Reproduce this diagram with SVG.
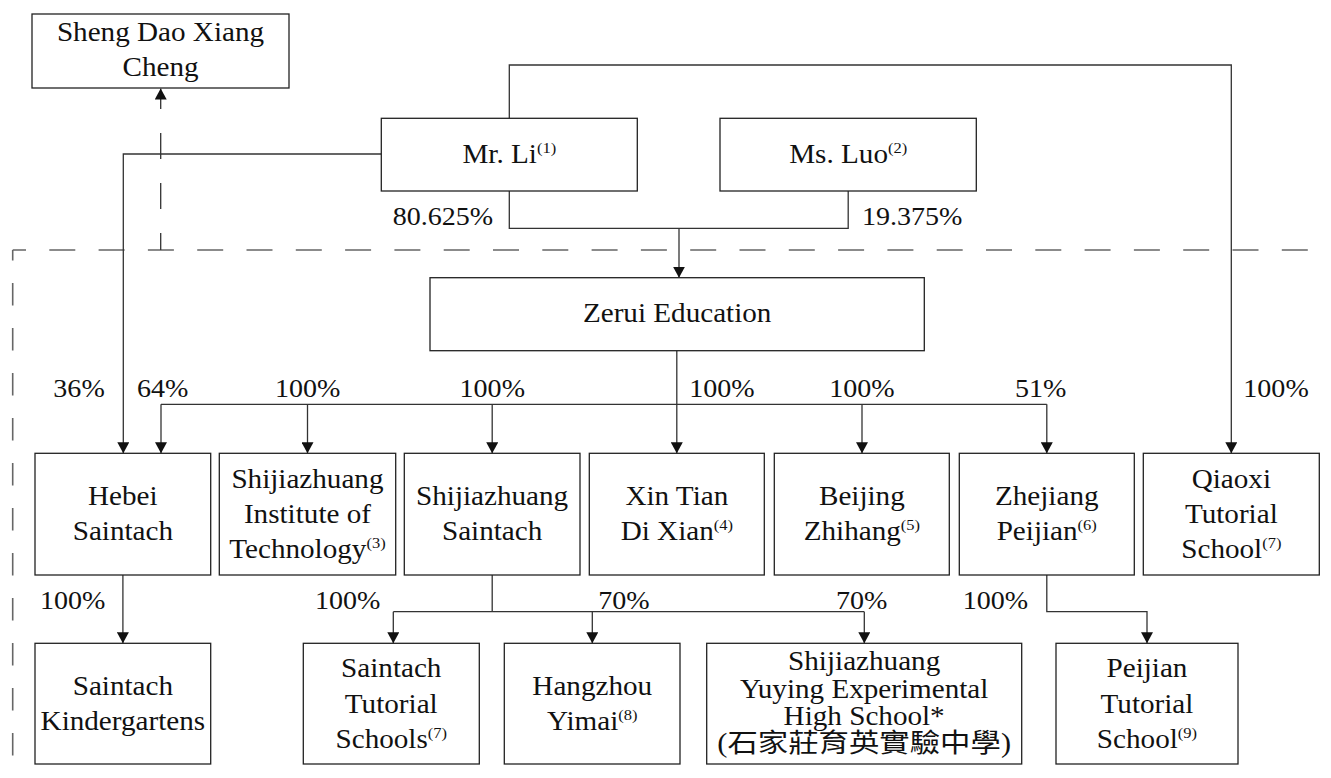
<svg xmlns="http://www.w3.org/2000/svg" width="1331" height="778" viewBox="0 0 1331 778">
<style>
rect.box{fill:#fff;stroke:#222;stroke-width:1.3}
.t{font-family:"Liberation Serif","Times New Roman",serif;font-size:26.5px;fill:#111;text-anchor:middle}
.p{font-family:"Liberation Serif","Times New Roman",serif;font-size:25.5px;fill:#111}
.sup{font-size:15px}
.cjk{font-family:"Liberation Serif","Noto Sans CJK TC",serif}
.c{fill:none;stroke:#333;stroke-width:1.3}
.a{marker-end:url(#arr)}
.d{fill:none;stroke:#666;stroke-width:1.6}
</style>
<defs>
<marker id="arr" viewBox="0 0 11 12" refX="11" refY="6" markerWidth="11" markerHeight="12" markerUnits="userSpaceOnUse" orient="auto">
<path d="M0,0 L11,6 L0,12 z" fill="#111"/>
</marker>
</defs>

<g id="boundary">
<path class="d" d="M12.7,250 V778" stroke-dasharray="22.5 22.5" stroke-dashoffset="12"/>
<path class="d" d="M12.7,250 H1331" stroke-dasharray="26 23.3" stroke-dashoffset="12.7"/>
</g>

<g id="connectors">
<path class="c a" d="M160.7,250 V88.5" stroke-dasharray="26 24" stroke-dashoffset="9"/>
<path class="c a" d="M509.3,118.3 V65 H1231.3 V453.3"/>
<path class="c a" d="M381.3,154 H123.3 V453.3"/>
<path class="c" d="M509.3,191 V228.3 H848.2 V191"/>
<path class="c a" d="M679,228.3 V277.7"/>
<path class="c a" d="M676.8,350.7 V453.3"/>
<path class="c" d="M161,404.3 H1046.8"/>
<path class="c a" d="M161,404.3 V453.3"/>
<path class="c a" d="M307.5,404.3 V453.3"/>
<path class="c a" d="M492.2,404.3 V453.3"/>
<path class="c a" d="M862,404.3 V453.3"/>
<path class="c a" d="M1046.8,404.3 V453.3"/>
<path class="c a" d="M122.9,575 V643.3"/>
<path class="c" d="M492.2,575 V611.7 M393.3,611.7 H864.3"/>
<path class="c a" d="M393.3,611.7 V643.3"/>
<path class="c a" d="M592.3,611.7 V643.3"/>
<path class="c a" d="M864.3,611.7 V643.3"/>
<path class="c a" d="M1046.8,575 V611.7 H1147 V643.3"/>
</g>

<g id="labels">
<text class="p" transform="scale(1.1 1)" x="357" y="225">80.625%</text>
<text class="p" transform="scale(1.1 1)" x="783.6" y="225">19.375%</text>
<text class="p" transform="scale(1.1 1)" x="48.5" y="396.7">36%</text>
<text class="p" transform="scale(1.1 1)" x="124.5" y="396.7">64%</text>
<text class="p" transform="scale(1.1 1)" x="250" y="396.7">100%</text>
<text class="p" transform="scale(1.1 1)" x="417.8" y="396.7">100%</text>
<text class="p" transform="scale(1.1 1)" x="626.6" y="396.7">100%</text>
<text class="p" transform="scale(1.1 1)" x="753.9" y="396.7">100%</text>
<text class="p" transform="scale(1.1 1)" x="922.7" y="396.7">51%</text>
<text class="p" transform="scale(1.1 1)" x="1130.3" y="396.7">100%</text>
<text class="p" transform="scale(1.1 1)" x="36.4" y="609">100%</text>
<text class="p" transform="scale(1.1 1)" x="286.4" y="609">100%</text>
<text class="p" transform="scale(1.1 1)" x="543.9" y="609">70%</text>
<text class="p" transform="scale(1.1 1)" x="760" y="609">70%</text>
<text class="p" transform="scale(1.1 1)" x="875.2" y="609">100%</text>
</g>

<g id="sheng-dao">
<rect class="box" x="32" y="14" width="257" height="74"/>
<text class="t" transform="scale(1.1 1)" x="145.9" y="41">Sheng Dao Xiang</text>
<text class="t" transform="scale(1.1 1)" x="145.9" y="76">Cheng</text>
</g>
<g id="mr-li">
<rect class="box" x="381.3" y="118.3" width="256" height="72.7"/>
<text class="t" transform="scale(1.1 1)" x="463" y="163">Mr. Li<tspan class="sup" dy="-10">(1)</tspan></text>
</g>
<g id="ms-luo">
<rect class="box" x="720" y="118.3" width="256.3" height="72.7"/>
<text class="t" transform="scale(1.1 1)" x="771.1" y="163">Ms. Luo<tspan class="sup" dy="-10">(2)</tspan></text>
</g>
<g id="zerui">
<rect class="box" x="430" y="277.7" width="494.3" height="73"/>
<text class="t" transform="scale(1.1 1)" x="615.6" y="322">Zerui Education</text>
</g>

<g id="hebei-saintach">
<rect class="box" x="35" y="453.3" width="175.7" height="121.7"/>
<text class="t" transform="scale(1.1 1)" x="111.7" y="505">Hebei</text>
<text class="t" transform="scale(1.1 1)" x="111.7" y="540">Saintach</text>
</g>
<g id="sjz-institute">
<rect class="box" x="219.3" y="453.3" width="176.4" height="121.7"/>
<text class="t" transform="scale(1.1 1)" x="279.5" y="488">Shijiazhuang</text>
<text class="t" transform="scale(1.1 1)" x="279.5" y="523">Institute of</text>
<text class="t" transform="scale(1.1 1)" x="279.5" y="558">Technology<tspan class="sup" dy="-10">(3)</tspan></text>
</g>
<g id="sjz-saintach">
<rect class="box" x="404.3" y="453.3" width="175.7" height="121.7"/>
<text class="t" transform="scale(1.1 1)" x="447.4" y="505">Shijiazhuang</text>
<text class="t" transform="scale(1.1 1)" x="447.4" y="540">Saintach</text>
</g>
<g id="xin-tian">
<rect class="box" x="589.3" y="453.3" width="175" height="121.7"/>
<text class="t" transform="scale(1.1 1)" x="615.3" y="505">Xin Tian</text>
<text class="t" transform="scale(1.1 1)" x="615.3" y="540">Di Xian<tspan class="sup" dy="-10">(4)</tspan></text>
</g>
<g id="beijing-zhihang">
<rect class="box" x="774.3" y="453.3" width="175" height="121.7"/>
<text class="t" transform="scale(1.1 1)" x="783.5" y="505">Beijing</text>
<text class="t" transform="scale(1.1 1)" x="783.5" y="540">Zhihang<tspan class="sup" dy="-10">(5)</tspan></text>
</g>
<g id="zhejiang-peijian">
<rect class="box" x="959.3" y="453.3" width="175" height="121.7"/>
<text class="t" transform="scale(1.1 1)" x="951.6" y="505">Zhejiang</text>
<text class="t" transform="scale(1.1 1)" x="951.6" y="540">Peijian<tspan class="sup" dy="-10">(6)</tspan></text>
</g>
<g id="qiaoxi">
<rect class="box" x="1143.3" y="453.3" width="176" height="121.7"/>
<text class="t" transform="scale(1.1 1)" x="1119.4" y="488">Qiaoxi</text>
<text class="t" transform="scale(1.1 1)" x="1119.4" y="523">Tutorial</text>
<text class="t" transform="scale(1.1 1)" x="1119.4" y="558">School<tspan class="sup" dy="-10">(7)</tspan></text>
</g>

<g id="kindergartens">
<rect class="box" x="35" y="643.3" width="175.7" height="120.7"/>
<text class="t" transform="scale(1.1 1)" x="111.7" y="695">Saintach</text>
<text class="t" transform="scale(1.1 1)" x="111.7" y="730">Kindergartens</text>
</g>
<g id="saintach-tutorial">
<rect class="box" x="303.3" y="643.3" width="176" height="120.7"/>
<text class="t" transform="scale(1.1 1)" x="355.7" y="677">Saintach</text>
<text class="t" transform="scale(1.1 1)" x="355.7" y="713">Tutorial</text>
<text class="t" transform="scale(1.1 1)" x="355.7" y="748">Schools<tspan class="sup" dy="-10">(7)</tspan></text>
</g>
<g id="hangzhou-yimai">
<rect class="box" x="504.3" y="643.3" width="175.7" height="120.7"/>
<text class="t" transform="scale(1.1 1)" x="538.4" y="695">Hangzhou</text>
<text class="t" transform="scale(1.1 1)" x="538.4" y="730">Yimai<tspan class="sup" dy="-10">(8)</tspan></text>
</g>
<g id="yuying">
<rect class="box" x="706.7" y="643.3" width="315" height="120.7"/>
<text class="t" transform="scale(1.1 1)" x="785.6" y="670">Shijiazhuang</text>
<text class="t" transform="scale(1.1 1)" x="785.6" y="698">Yuying Experimental</text>
<text class="t" transform="scale(1.1 1)" x="785.6" y="725">High School*</text>
<text class="t cjk" transform="scale(1.1 1)" x="785.6" y="752" textLength="267" lengthAdjust="spacingAndGlyphs">(石家莊育英實驗中學)</text>
</g>
<g id="peijian-tutorial">
<rect class="box" x="1056" y="643.3" width="182" height="120.7"/>
<text class="t" transform="scale(1.1 1)" x="1042.7" y="677">Peijian</text>
<text class="t" transform="scale(1.1 1)" x="1042.7" y="713">Tutorial</text>
<text class="t" transform="scale(1.1 1)" x="1042.7" y="748">School<tspan class="sup" dy="-10">(9)</tspan></text>
</g>
</svg>
